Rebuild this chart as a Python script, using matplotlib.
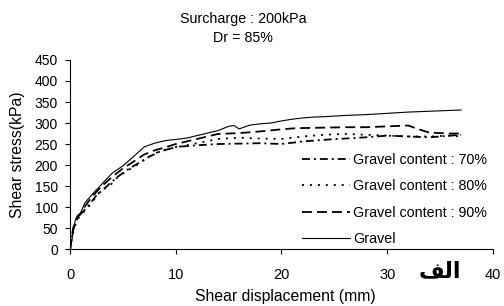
import matplotlib
matplotlib.use('Agg')
import matplotlib.pyplot as plt

plt.rcParams['font.family'] = ['Liberation Sans', 'DejaVu Sans']

# Gravel (solid)
x_gravel = [0, 0.25, 0.5, 0.7, 1.0, 1.4, 2.2, 3.1, 4.0, 5.0, 6.0, 7.0, 8.0, 9.0, 10.0, 11, 12, 13, 14, 15,
            15.5, 16, 17, 18, 19, 20, 21, 22, 23, 24, 26, 28, 30, 32, 34, 36, 37]
y_gravel = [0, 33, 69, 80, 86, 110, 133, 157, 181, 198, 220, 243, 252, 258, 261, 264, 270, 276, 282, 292,
            294, 286, 295, 298, 300, 305, 309, 312, 314, 315, 318, 320, 323, 326, 328, 330, 331]

# Gravel content 90% (dashed)
x_90 = [0, 0.3, 0.6, 1.0, 1.5, 2.2, 3.0, 4.0, 5.0, 6.0, 7.0, 8.0, 9.0, 10, 12, 14, 16, 18, 20, 21, 22,
        24, 26, 28, 30, 32, 33, 34, 35, 36, 37]
y_90 = [0, 50, 72, 85, 105, 128, 150, 172, 192, 208, 225, 235, 242, 250, 262, 274, 276, 280, 285, 287, 288,
        289, 290, 290, 292, 294, 285, 277, 276, 275, 275]

# Gravel content 80% (dotted)
x_80 = [0, 0.3, 0.7, 1.0, 1.9, 2.8, 3.8, 4.5, 5.2, 6.3, 7, 8, 9, 10, 12, 14, 16, 18, 20, 22, 24, 26,
        28, 30, 32, 34, 36, 37]
y_80 = [0, 45, 70, 80, 105, 136, 152, 171, 183, 200, 212, 228, 236, 242, 252, 262, 265, 263, 262, 268, 272, 274,
        272, 270, 268, 268, 270, 268]

# Gravel content 70% (dash-dot)
x_70 = [0, 0.3, 0.7, 1.0, 1.8, 2.5, 3.5, 4.5, 5.5, 6.5, 7.5, 8.5, 10, 12, 14, 16, 18, 20, 22, 24, 26,
        28, 30, 32, 34, 36, 37]
y_70 = [0, 48, 72, 83, 105, 128, 150, 172, 190, 205, 220, 232, 243, 247, 250, 251, 252, 250, 256, 260, 263,
        266, 270, 268, 266, 270, 272]

fig = plt.figure(figsize=(5.04, 3.06), dpi=100)
ax = fig.add_axes([0.139, 0.186, 0.839, 0.618])

ax.plot(x_70, y_70, color='black', lw=1.3, dashes=[4.4, 2.2, 1.1, 2.2], label='Gravel content : 70%')
ax.plot(x_80, y_80, color='black', lw=1.3, dashes=[1.1, 3.3], label='Gravel content : 80%')
ax.plot(x_90, y_90, color='black', lw=1.3, dashes=[5.5, 2.8], label='Gravel content : 90%')
ax.plot(x_gravel, y_gravel, color='black', lw=0.8, label='Gravel')

ax.set_xlim(0, 40)
ax.set_ylim(0, 450)
ax.set_xticks([0, 10, 20, 30, 40])
ax.set_yticks(range(0, 451, 50))
ax.spines['top'].set_visible(False)
ax.spines['right'].set_visible(False)
ax.tick_params(axis='x', length=3.6, pad=10, labelsize=10.5)
ax.tick_params(axis='y', length=3.6, pad=5, labelsize=10)
ax.set_xlabel('Shear displacement (mm)', fontsize=11.3)
ax.set_ylabel('Shear stress(kPa)', fontsize=11.3)
ax.xaxis.set_label_coords(0.509, -0.212)
ax.yaxis.set_label_coords(-0.106, 0.5)

fig.legend(loc='upper left', bbox_to_anchor=(0.599, 0.500), frameon=False, fontsize=10.3,
           handlelength=3.36, handletextpad=0.2, labelspacing=0.87, borderpad=0, borderaxespad=0)

fig.text(0.482, 0.938, 'Surcharge : 200kPa', ha='center', va='center', fontsize=10.3)
fig.text(0.482, 0.876, 'Dr = 85%', ha='center', va='center', fontsize=10.3)
fig.text(0.873, 0.115, '\uFED2\uFEDF\uFE8D', ha='center', va='center', fontsize=16,
         fontweight='bold', family=['DejaVu Sans'])

fig.savefig('out.png', dpi=100)
